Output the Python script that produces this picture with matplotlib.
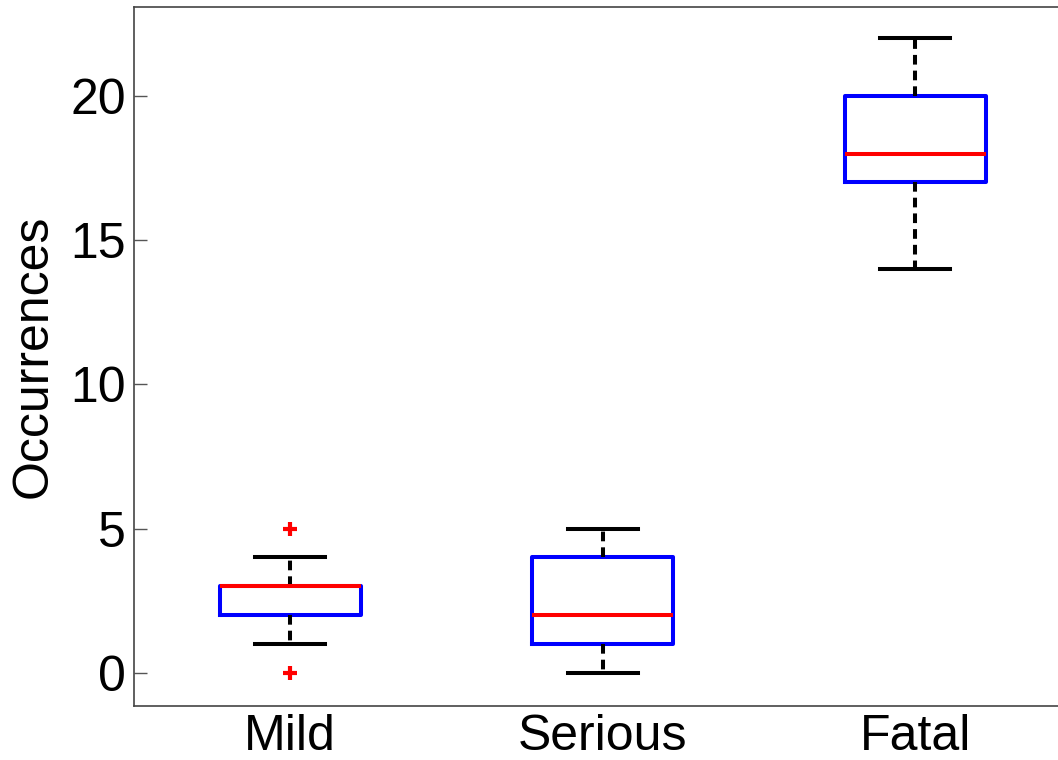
import matplotlib
matplotlib.use('Agg')
import matplotlib.pyplot as plt

# Box statistics
categories = ['Mild', 'Serious', 'Fatal']
q1 = [2, 1, 17]
medians = [3, 2, 18]
q3 = [3, 4, 20]
whis_lo = [1, 0, 14]
whis_hi = [4, 5, 22]
outliers = [[0, 5], [], []]
yticks = [0, 5, 10, 15, 20]

plt.rcParams['font.family'] = ['Liberation Sans', 'DejaVu Sans']

stats = []
for name, a, m, b, lo, hi, fl in zip(categories, q1, medians, q3, whis_lo, whis_hi, outliers):
    stats.append({'label': name, 'q1': a, 'med': m, 'q3': b,
                  'whislo': lo, 'whishi': hi, 'fliers': fl})

fig = plt.figure(figsize=(10.58, 7.6), dpi=100)
ax = fig.add_axes([134 / 1058, 54 / 760, 937.5 / 1058, 699 / 760])

lw = 2.9
ax.bxp(stats, positions=[1, 2, 3], widths=0.45, capwidths=0.225,
       boxprops=dict(color='#0000ff', linewidth=lw),
       medianprops=dict(color='#ff0000', linewidth=lw),
       whiskerprops=dict(color='black', linewidth=lw, linestyle=(0, (2.4, 1.5))),
       capprops=dict(color='black', linewidth=lw),
       flierprops=dict(marker='+', markeredgecolor='#ff0000', markersize=10,
                       markeredgewidth=3))

ax.set_xlim(0.5, 3.5)
ax.set_ylim(-1.15, 23.08)
ax.set_yticks(yticks)
ax.set_xticks([1, 2, 3])
ax.set_xticklabels(categories)
ax.tick_params(axis='y', direction='in', length=9, width=1, color='#555555',
               labelsize=36, pad=6)
ax.tick_params(axis='x', length=0, labelsize=36, pad=6)
ax.set_ylabel('Occurrences', fontsize=36)
ax.yaxis.set_label_coords(-0.082, 0.5)

for side in ['left', 'bottom', 'top']:
    ax.spines[side].set_color('#444444')
    ax.spines[side].set_linewidth(1.2)
ax.spines['right'].set_visible(False)

fig.savefig('out.png', dpi=100)
plt.close(fig)
